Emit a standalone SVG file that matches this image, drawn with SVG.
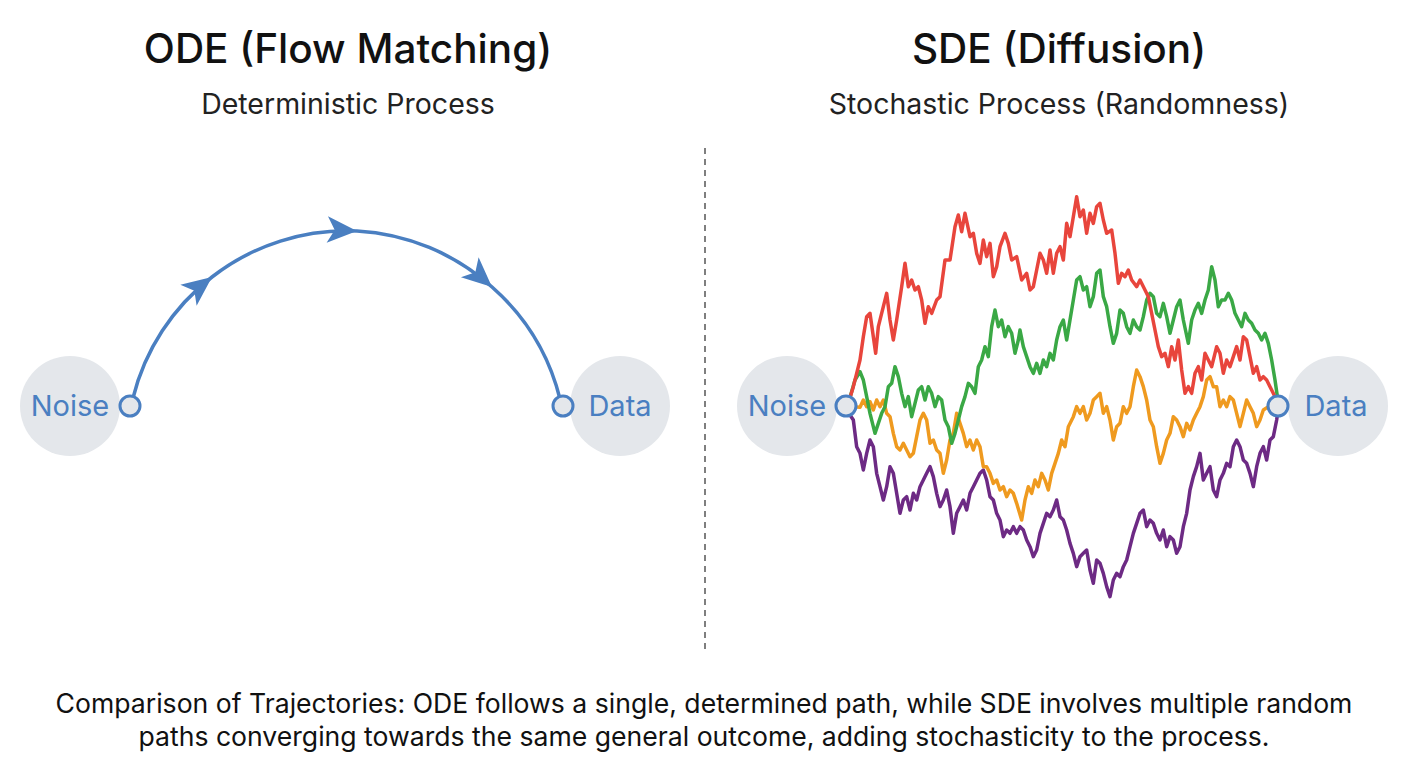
<svg xmlns="http://www.w3.org/2000/svg" width="1408" height="768" viewBox="0 0 1408 768">
<style>
.title{font-family:Inter,"Liberation Sans",sans-serif;font-size:40.5px;fill:#111;text-anchor:middle;font-weight:500}
.sub{font-family:Inter,"Liberation Sans",sans-serif;font-size:28.5px;fill:#222;text-anchor:middle}
.lbl{font-family:Inter,"Liberation Sans",sans-serif;font-size:29px;fill:#4a7fc1;text-anchor:middle}
.cap{font-family:Inter,"Liberation Sans",sans-serif;font-size:26.6px;fill:#111;text-anchor:middle}
.bg{fill:#e4e7eb}
.ring{fill:#e4e7eb;stroke:#4a7fc1;stroke-width:3}
.walk{fill:none;stroke-width:10.5;stroke-linejoin:round;stroke-linecap:round}
</style>
<defs>
<marker id="ah" markerUnits="userSpaceOnUse" markerWidth="34" markerHeight="34" viewBox="-30 -15 32 30" refX="0" refY="0" orient="auto">
<path d="M0,0 L-28,-12.5 L-21,0 L-28,12.5 Z" fill="#4a7fc1"/>
</marker>
</defs>
<rect width="1408" height="768" fill="#fff"/>

<g id="ode-title"><text class="title" x="348" y="63">ODE (Flow Matching)</text><text class="sub" x="348" y="114">Deterministic Process</text></g>
<g id="sde-title"><text class="title" x="1059" y="63">SDE (Diffusion)</text><text class="sub" x="1059" y="114">Stochastic Process (Randomness)</text></g>

<line id="divider" x1="705" y1="148" x2="705" y2="650" stroke="#555" stroke-width="1.5" stroke-dasharray="6 5"/>

<g id="ode-noise"><circle class="bg" cx="70" cy="406" r="50"/><text class="lbl" x="70" y="416">Noise</text></g>
<g id="ode-data"><circle class="bg" cx="620" cy="406" r="50"/><text class="lbl" x="620" y="416">Data</text></g>
<g id="sde-noise"><circle class="bg" cx="787" cy="406" r="50"/><text class="lbl" x="787" y="416">Noise</text></g>
<g id="sde-data"><circle class="bg" cx="1338" cy="406" r="50"/><text class="lbl" x="1336" y="416">Data</text></g>

<g id="connectors">
<path d="M 133 398 A 220 220 0 0 1 212 277 A 220 220 0 0 1 357 231 A 220 220 0 0 1 492 287 A 220 220 0 0 1 560 399" fill="none" stroke="#4a7fc1" stroke-width="3.5" marker-mid="url(#ah)"/>
<g id="sde-paths" transform="translate(830 180) scale(0.33333)">
<polyline class="walk" stroke="#6d2a84" points="50,690 70,720 80,800 90,820 100,870 110,820 120,780 130,800 140,880 150,920 160,960 170,920 180,860 190,880 200,940 210,1000 220,960 230,950 240,990 250,940 260,960 270,920 280,900 290,880 300,860 310,890 320,940 330,980 340,960 350,930 360,980 370,1060 380,1000 390,980 400,960 410,990 420,940 430,920 440,900 450,880 460,870 470,900 480,950 490,960 500,1000 510,1020 520,1070 530,1050 540,1060 550,1040 560,1060 570,1040 580,1050 590,1080 600,1100 610,1130 620,1110 630,1060 640,1030 650,1000 660,1010 670,990 680,960 690,1010 700,1020 710,1050 720,1090 730,1120 740,1160 750,1130 760,1120 770,1110 780,1170 790,1210 800,1140 810,1150 820,1180 830,1220 840,1250 850,1200 860,1180 870,1190 880,1160 890,1140 900,1100 910,1060 920,1030 930,1000 940,990 950,1040 960,1020 970,1030 980,1060 990,1080 1000,1050 1010,1100 1020,1070 1030,1080 1040,1120 1050,1100 1060,1040 1070,1000 1080,930 1090,890 1100,860 1110,820 1120,900 1130,880 1140,860 1150,930 1160,950 1170,900 1180,880 1190,850 1200,860 1210,800 1220,780 1230,800 1240,840 1250,850 1260,880 1270,920 1280,860 1290,820 1300,800 1310,840 1320,780 1330,770 1340,720 1345,685"/>
<polyline class="walk" stroke="#ef9a1f" points="70,680 90,682 100,660 110,680 120,665 130,690 140,660 150,680 160,660 170,700 180,710 190,760 200,800 210,810 220,790 230,810 240,830 250,820 260,770 270,720 280,700 290,720 300,790 310,780 320,810 330,820 340,880 350,840 360,780 370,760 380,700 390,730 400,760 410,800 420,780 430,810 440,780 450,800 460,860 470,860 480,880 490,910 500,900 510,930 520,920 530,950 540,930 550,940 560,970 575,1020 585,960 595,920 605,940 615,900 625,920 635,880 645,900 655,930 665,880 675,850 685,820 695,780 705,800 715,740 730,710 740,680 750,700 760,680 770,720 780,700 790,660 800,650 810,640 820,700 830,680 840,720 850,780 860,740 870,730 880,680 890,700 900,680 910,620 920,570 930,590 940,620 950,660 960,720 970,740 980,800 990,850 1000,820 1010,780 1020,760 1030,710 1040,720 1050,740 1060,770 1070,730 1080,750 1090,720 1100,700 1110,680 1120,650 1130,600 1140,590 1150,620 1160,620 1170,680 1180,660 1190,680 1200,650 1210,660 1220,700 1230,740 1240,700 1250,660 1260,680 1270,700 1280,740 1290,720 1300,690 1315,680 1330,680 1345,678"/>
<polyline class="walk" stroke="#3aa845" points="55,670 75,600 90,575 100,600 110,650 120,700 135,760 145,730 155,700 165,680 175,620 185,610 195,560 205,590 215,640 225,680 235,650 245,710 255,670 265,630 275,620 285,660 295,620 305,640 315,680 325,650 335,660 345,720 355,740 365,790 375,760 385,720 395,680 405,650 415,610 425,620 435,640 445,560 455,540 465,500 475,530 485,440 495,390 505,440 515,420 525,470 535,440 545,460 555,520 565,480 570,450 580,500 590,530 600,560 610,580 620,550 630,580 640,540 650,560 660,520 670,540 680,480 690,440 700,420 710,480 720,420 730,360 740,300 750,290 760,330 770,320 780,380 790,350 800,280 810,270 820,350 830,380 840,440 850,490 860,460 870,390 880,400 890,440 900,460 910,420 920,440 930,450 940,410 950,360 960,340 970,350 980,400 990,410 1000,370 1010,410 1020,460 1030,420 1040,380 1050,360 1060,420 1075,490 1085,420 1095,390 1105,370 1115,400 1125,360 1135,330 1145,260 1155,300 1165,380 1175,360 1185,360 1195,340 1205,360 1215,400 1225,420 1235,440 1245,400 1255,420 1265,430 1275,450 1285,460 1295,480 1305,460 1315,490 1325,540 1335,600 1345,670"/>
<polyline class="walk" stroke="#e8453c" points="55,670 70,620 80,580 90,540 100,470 110,410 120,400 130,470 137,520 145,440 160,380 170,340 180,420 190,480 200,420 215,320 225,250 235,320 245,300 255,330 265,320 275,360 285,430 295,380 305,400 320,360 330,350 345,240 360,240 375,140 385,105 395,155 405,100 420,170 430,160 440,220 450,250 460,180 470,230 480,190 490,290 500,260 510,200 525,160 535,190 545,240 560,230 575,300 590,280 600,330 610,320 620,270 630,220 640,240 650,280 660,210 670,280 680,220 690,200 700,240 710,130 720,170 730,110 740,50 750,110 760,90 770,160 780,100 790,130 800,80 810,70 820,120 830,160 845,150 855,220 865,310 875,280 885,290 895,270 905,300 920,320 930,300 945,330 955,350 965,400 975,450 985,500 995,530 1005,520 1015,560 1025,500 1035,540 1045,480 1055,570 1065,640 1075,620 1085,640 1095,580 1105,560 1115,600 1125,520 1135,540 1145,560 1160,500 1170,520 1180,580 1190,540 1200,560 1210,530 1220,500 1230,540 1240,470 1250,480 1260,530 1270,580 1280,560 1290,600 1300,590 1310,600 1320,620 1335,650 1345,675"/>
</g>
</g>

<g id="ode-noise-port"><circle class="ring" cx="130" cy="406" r="10"/></g>
<g id="ode-data-port"><circle class="ring" cx="563" cy="406" r="10"/></g>
<g id="sde-noise-port"><circle class="ring" cx="846" cy="406" r="10"/></g>
<g id="sde-data-port"><circle class="ring" cx="1278" cy="406" r="10"/></g>

<g id="caption">
<text class="cap" x="704" y="713">Comparison of Trajectories: ODE follows a single, determined path, while SDE involves multiple random</text>
<text class="cap" x="704" y="746">paths converging towards the same general outcome, adding stochasticity to the process.</text>
</g>
</svg>
